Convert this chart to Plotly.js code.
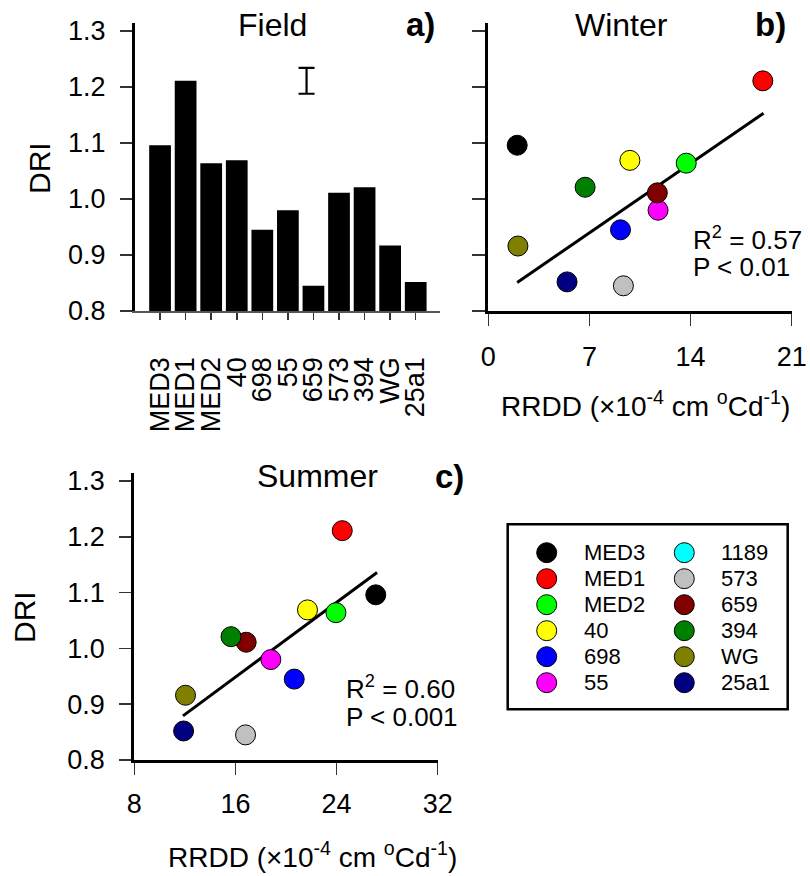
<!DOCTYPE html>
<html>
<head>
<meta charset="utf-8">
<script src="https://cdn.plot.ly/plotly-3.0.1.min.js"></script>
<style>html,body{margin:0;padding:0;background:#fff;}#chart{width:810px;height:876px;}</style>
</head>
<body>
<div id="chart"></div>
<script>
// ---- data ----
const barLabels = ["MED3","MED1","MED2","40","698","55","659","573","394","WG","25a1"];
const barDRI    = [1.096, 1.211, 1.064, 1.069, 0.945, 0.980, 0.845, 1.011, 1.021, 0.917, 0.852];
const lsdX = [5.73];
const lsdY = [1.211];
const lsdHalf = [0.023];

const genotypes   = ["MED3","MED1","MED2","40","698","55","573","659","394","WG","25a1"];
const genoColors  = ["#000000","#FF0000","#00FF00","#FFFF00","#0000FF","#FF00FF","#C0C0C0","#800000","#008000","#808000","#000080"];
const genoDRI     = [1.096, 1.211, 1.064, 1.069, 0.945, 0.980, 0.845, 1.011, 1.021, 0.916, 0.852];
const winterRRDD  = [2.0, 19.0, 13.7, 9.8, 9.15, 11.75, 9.35, 11.7, 6.7, 2.05, 5.45];
const summerRRDD  = [27.1, 24.45, 23.95, 21.7, 20.65, 18.8, 16.8, 16.85, 15.65, 12.05, 11.9];

const winterFitX = [2.0, 19.05];
const winterFitY = [0.851, 1.153];
const summerFitX = [11.85, 27.2];
const summerFitY = [0.879, 1.136];

const legendNames  = ["MED3","MED1","MED2","40","698","55","1189","573","659","394","WG","25a1"];
const legendColors = ["#000000","#FF0000","#00FF00","#FFFF00","#0000FF","#FF00FF","#00FFFF","#C0C0C0","#800000","#008000","#808000","#000080"];

const yTicks = [0.8, 0.9, 1.0, 1.1, 1.2, 1.3];
const yTickText = ["0.8","0.9","1.0","1.1","1.2","1.3"];
const winterTicks = [0, 7, 14, 21];
const summerTicks = [8, 16, 24, 32];

// ---- layout helpers ----
const W = 810, H = 876;
const fx = x => x / W;
const fy = y => 1 - y / H;
const FONT = "Liberation Sans, Arial, sans-serif";

const traces = [];
traces.push({
  type: "bar", x: barLabels.map((_, i) => i), y: barDRI, width: 0.85,
  marker: {color: "#000", line: {width: 0}}, xaxis: "x", yaxis: "y", hoverinfo: "skip"
});
traces.push({
  type: "scatter", mode: "markers", x: lsdX, y: lsdY, xaxis: "x", yaxis: "y",
  marker: {size: 1, opacity: 0},
  error_y: {type: "data", array: lsdHalf, visible: true, color: "#000", thickness: 2.2, width: 8}
});
// winter
traces.push({type: "scatter", mode: "lines", x: winterFitX, y: winterFitY, xaxis: "x2", yaxis: "y2",
  line: {color: "#000", width: 3}});
traces.push({type: "scatter", mode: "markers", x: winterRRDD, y: genoDRI, xaxis: "x2", yaxis: "y2",
  cliponaxis: false, marker: {size: 20, color: genoColors, line: {color: "#000", width: 1}}});
// summer
traces.push({type: "scatter", mode: "lines", x: summerFitX, y: summerFitY, xaxis: "x3", yaxis: "y3",
  line: {color: "#000", width: 3}});
traces.push({type: "scatter", mode: "markers", x: summerRRDD, y: genoDRI, xaxis: "x3", yaxis: "y3",
  cliponaxis: false, marker: {size: 20, color: genoColors, line: {color: "#000", width: 1}}});
// legend (drawn in its own hidden axes)
const legCol = legendNames.map((_, i) => Math.floor(i / 6));
const legRow = legendNames.map((_, i) => i % 6);
traces.push({type: "scatter", mode: "markers", x: legCol, y: legRow, xaxis: "x4", yaxis: "y4",
  cliponaxis: false, marker: {size: 20, color: legendColors, line: {color: "#000", width: 1}}});

const annotations = [];
function ann(text, x, y, size, opts) {
  annotations.push(Object.assign({
    text: text, x: fx(x), y: fy(y), xref: "paper", yref: "paper",
    xanchor: "center", yanchor: "middle", showarrow: false,
    font: {family: FONT, size: size, color: "#000"}
  }, opts || {}));
}
ann("Field", 272, 25, 32);
ann("<b>a)</b>", 420, 24, 33);
ann("Winter", 621, 25, 32);
ann("<b>b)</b>", 770, 24, 33);
ann("Summer", 317, 476, 32);
ann("<b>c)</b>", 449, 477, 33);
ann("DRI", 39, 168, 30, {textangle: -90});
ann("DRI", 24, 617, 30, {textangle: -90});
ann("R<sup>2</sup> = 0.57", 691, 238, 26, {xanchor: "left"});
ann("P &lt; 0.01", 691, 267, 26, {xanchor: "left"});
ann("R<sup>2</sup> = 0.60", 344, 687, 26, {xanchor: "left"});
ann("P &lt; 0.001", 344, 717, 26, {xanchor: "left"});
ann("RRDD (×10<sup>-4</sup> cm <sup>o</sup>Cd<sup>-1</sup>)", 645, 404, 28);
ann("RRDD (×10<sup>-4</sup> cm <sup>o</sup>Cd<sup>-1</sup>)", 312, 855, 28);
// legend labels
legendNames.forEach((nm, i) => {
  annotations.push({
    text: nm, x: legCol[i] + 0.255, y: legRow[i], xref: "x4", yref: "y4",
    xanchor: "left", yanchor: "middle", showarrow: false,
    font: {family: FONT, size: 22, color: "#000"}
  });
});

const tickFont = {family: FONT, size: 27, color: "#000"};
const yBase = {
  range: [0.8, 1.3143], tickvals: yTicks, ticktext: yTickText, ticks: "outside", ticklen: 12,
  tickwidth: 1.5, tickcolor: "#333", showline: true, linewidth: 3, linecolor: "#000",
  showgrid: false, zeroline: false, tickfont: tickFont, ticklabelstandoff: 9, fixedrange: true
};

const layout = {
  width: W, height: H, margin: {l: 0, r: 0, t: 0, b: 0},
  paper_bgcolor: "#fff", plot_bgcolor: "rgba(0,0,0,0)", showlegend: false,
  font: {family: FONT, color: "#000"},
  xaxis: {
    domain: [fx(135), fx(440)], range: [-0.98, 10.95], tickvals: barLabels.map((_, i) => i),
    ticktext: barLabels, tickangle: -90, ticks: "outside", ticklen: 7, tickwidth: 1.5, tickcolor: "#333",
    showline: true, linewidth: 1.5, linecolor: "#555", showgrid: false, zeroline: false,
    tickfont: {family: FONT, size: 27, color: "#000"}, ticklabelstandoff: 27, anchor: "y"
  },
  yaxis: Object.assign({}, yBase, {domain: [fy(311), fy(23)], anchor: "x"}),
  xaxis2: {
    domain: [fx(488.3), fx(791.7)], range: [0, 21], tickvals: winterTicks, ticks: "outside", ticklen: 12,
    tickwidth: 1.5, tickcolor: "#333", showline: true, linewidth: 3, linecolor: "#000",
    showgrid: false, zeroline: false, tickfont: tickFont, ticklabelstandoff: 8, anchor: "y2"
  },
  yaxis2: Object.assign({}, yBase, {domain: [fy(311), fy(23)], anchor: "x2", showticklabels: false, ticklen: 13}),
  xaxis3: {
    domain: [fx(134.3), fx(437.7)], range: [8, 32], tickvals: summerTicks, ticks: "outside", ticklen: 12,
    tickwidth: 1.5, tickcolor: "#333", showline: true, linewidth: 3, linecolor: "#000",
    showgrid: false, zeroline: false, tickfont: tickFont, ticklabelstandoff: 6, anchor: "y3"
  },
  yaxis3: Object.assign({}, yBase, {domain: [fy(760), fy(473)], anchor: "x3"}),
  xaxis4: {domain: [fx(507.7), fx(787.7)], range: [-0.2834, 1.7515], visible: false, fixedrange: true, anchor: "y4"},
  yaxis4: {domain: [fy(709.3), fy(524.3)], range: [6.023, -1.092], visible: false, fixedrange: true, anchor: "x4"},
  shapes: [{
    type: "rect", xref: "paper", yref: "paper", x0: fx(507.7), x1: fx(787.7), y0: fy(709.3), y1: fy(524.3),
    line: {color: "#000", width: 2.5}, fillcolor: "rgba(0,0,0,0)"
  }],
  annotations: annotations
};

Plotly.newPlot("chart", traces, layout, {displayModeBar: false, staticPlot: true});
</script>
</body>
</html>
